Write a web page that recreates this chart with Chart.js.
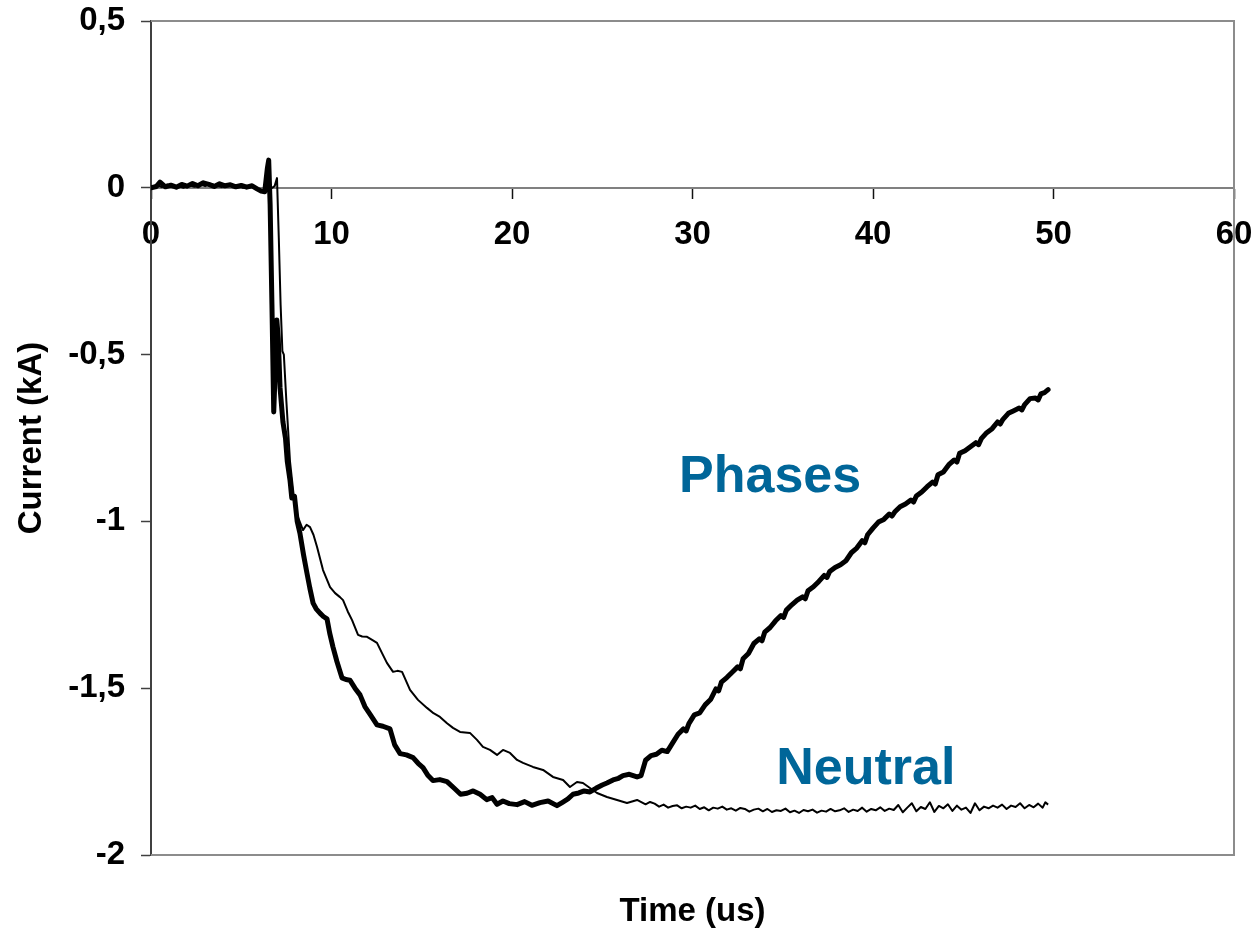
<!DOCTYPE html>
<html>
<head>
<meta charset="utf-8">
<title>Current vs time</title>
<script src="https://cdn.jsdelivr.net/npm/chart.js@4/dist/chart.umd.min.js"></script>
<style>
  html, body { margin: 0; padding: 0; background: #ffffff; }
  #wrap { width: 1255px; height: 931px; position: relative; }
</style>
</head>
<body>
<div id="wrap"><canvas id="chart"></canvas></div>
<script>
// Phase current (thick trace): time in us, current in kA
const phasesTime = [
  0.0, 0.3, 0.5, 0.8, 1.1, 1.4, 1.7, 2.0, 2.3, 2.6, 2.9, 3.2, 3.5, 3.8, 4.1, 4.4, 4.7, 5.0, 5.3, 5.6,
  5.9, 6.1, 6.3, 6.45, 6.52, 6.6, 6.7, 6.8, 6.88, 6.97, 7.05, 7.15, 7.31, 7.45, 7.55, 7.70, 7.80, 7.95,
  8.10, 8.25, 8.45, 8.64, 8.80, 8.98, 9.15, 9.36, 9.55, 9.75, 9.90, 10.08, 10.30, 10.58, 10.80, 11.02,
  11.30, 11.58, 11.85, 12.13, 12.52, 12.85, 13.24, 13.50, 13.80, 14.15, 14.52, 14.80, 15.07, 15.35,
  15.62, 16.00, 16.40, 16.80, 17.15, 17.51, 17.85, 18.23, 18.60, 18.90, 19.17, 19.50, 19.85, 20.28,
  20.70, 21.10, 21.55, 22.00, 22.49, 22.80, 23.10, 23.38, 23.70, 24.00, 24.32, 24.65, 25.00, 25.26,
  25.60, 25.90, 26.15, 26.50, 26.93, 27.15,
  27.40, 27.70, 28.00, 28.30, 28.60, 28.90, 29.20, 29.50, 29.65, 29.80, 30.10, 30.40, 30.70, 31.00,
  31.30, 31.45, 31.60, 31.90, 32.20, 32.50, 32.65, 32.80, 33.10, 33.40, 33.70, 33.85, 34.00, 34.30,
  34.60, 34.90, 35.05, 35.20, 35.50, 35.80, 36.10, 36.25, 36.40, 36.70, 37.00, 37.30, 37.45, 37.60,
  37.90, 38.20, 38.50, 38.80, 39.10, 39.40, 39.55, 39.70, 40.00, 40.30, 40.60, 40.90, 41.05, 41.20,
  41.50, 41.80, 42.10, 42.25, 42.40, 42.70, 43.00, 43.30, 43.45, 43.60, 43.90, 44.20, 44.50, 44.65,
  44.80, 45.10, 45.40, 45.70, 45.85, 46.00, 46.30, 46.60, 46.90, 47.05, 47.20, 47.50, 47.80, 48.10,
  48.25, 48.40, 48.70, 49.00, 49.15, 49.30, 49.50, 49.70
];
const phasesCurrent = [
  0.000, 0.004, 0.017, 0.003, 0.008, 0.002, 0.010, 0.005, 0.013, 0.006, 0.015, 0.010, 0.004, 0.012, 0.006, 0.009, 0.003, 0.007, 0.002, 0.006,
  -0.004, -0.010, -0.012, 0.060, 0.083, -0.050, -0.350, -0.672, -0.550, -0.396, -0.450, -0.600, -0.702, -0.750, -0.820, -0.876, -0.930, -0.925,
  -1.000, -1.035, -1.100, -1.155, -1.200, -1.245, -1.262, -1.275, -1.285, -1.292, -1.335, -1.376, -1.420, -1.469, -1.474, -1.476,
  -1.500, -1.520, -1.555, -1.578, -1.610, -1.614, -1.622, -1.670, -1.696, -1.700, -1.708, -1.725, -1.738, -1.762,
  -1.777, -1.774, -1.780, -1.800, -1.818, -1.815, -1.808, -1.818, -1.834, -1.828, -1.848, -1.838, -1.846, -1.849,
  -1.840, -1.851, -1.843, -1.838, -1.852, -1.842, -1.832, -1.818, -1.814, -1.808, -1.811, -1.800, -1.790, -1.784,
  -1.775, -1.770, -1.762, -1.758, -1.766, -1.762,
  -1.716, -1.702, -1.698, -1.686, -1.690, -1.664, -1.638, -1.622, -1.628, -1.606, -1.580, -1.574, -1.550, -1.534,
  -1.502, -1.508, -1.482, -1.468, -1.452, -1.436, -1.442, -1.412, -1.396, -1.366, -1.352, -1.358, -1.332, -1.318,
  -1.298, -1.282, -1.288, -1.266, -1.250, -1.236, -1.226, -1.232, -1.208, -1.196, -1.180, -1.162, -1.168, -1.150,
  -1.138, -1.130, -1.118, -1.094, -1.080, -1.058, -1.064, -1.040, -1.020, -1.002, -0.994, -0.978, -0.984, -0.972,
  -0.956, -0.948, -0.936, -0.942, -0.924, -0.912, -0.896, -0.882, -0.888, -0.860, -0.852, -0.830, -0.816, -0.822,
  -0.796, -0.788, -0.776, -0.764, -0.770, -0.752, -0.734, -0.722, -0.702, -0.708, -0.694, -0.676, -0.668, -0.660,
  -0.666, -0.650, -0.632, -0.630, -0.636, -0.618, -0.614, -0.605
];

// Neutral current (thin trace): time in us, current in kA
const neutralTime = [
  0.0, 0.3, 0.6, 0.9, 1.2, 1.5, 1.8, 2.1, 2.4, 2.7, 3.0, 3.3, 3.6, 3.9, 4.2, 4.5, 4.8, 5.1, 5.4, 5.7,
  6.0, 6.3, 6.6, 6.85, 6.98, 7.08, 7.18, 7.28, 7.36, 7.50, 7.70, 7.90, 8.09, 8.42, 8.62, 8.81, 9.00,
  9.20, 9.53, 9.92, 10.20, 10.47, 10.64, 10.90, 11.14, 11.47, 11.70, 11.97, 12.25, 12.52, 12.80, 13.07,
  13.41, 13.65, 13.91, 14.35, 14.79, 15.29, 15.65, 16.01, 16.40, 16.73, 17.12, 17.67, 18.06, 18.39,
  18.78, 19.17, 19.50, 19.89, 20.28, 20.61, 21.16, 21.72, 22.27, 22.83, 23.21, 23.60, 23.93, 24.32,
  24.71, 25.26, 25.82, 26.37, 26.93, 27.40, 27.65,
  27.90, 28.15, 28.40, 28.65, 28.90, 29.15, 29.40, 29.65, 29.90, 30.15, 30.40, 30.65, 30.90, 31.15,
  31.40, 31.65, 31.90, 32.15, 32.40, 32.65, 32.90, 33.15, 33.40, 33.65, 33.90, 34.15, 34.40, 34.65,
  34.90, 35.15, 35.40, 35.65, 35.90, 36.15, 36.40, 36.65, 36.90, 37.15, 37.40, 37.65, 37.90, 38.15,
  38.40, 38.65, 38.90, 39.15, 39.40, 39.65, 39.90, 40.15, 40.40, 40.65, 40.90, 41.15, 41.40, 41.65,
  41.90, 42.15, 42.40, 42.65, 42.90, 43.15, 43.40, 43.65, 43.90, 44.15, 44.40, 44.65, 44.90, 45.15,
  45.40, 45.65, 45.90, 46.15, 46.40, 46.65, 46.90, 47.15, 47.40, 47.65, 47.90, 48.15, 48.40, 48.65,
  48.90, 49.15, 49.40, 49.55, 49.70
];
const neutralCurrent = [
  0.002, 0.008, 0.002, 0.010, 0.004, 0.006, 0.000, 0.008, 0.003, 0.010, 0.005, 0.012, 0.006, 0.002, 0.009, 0.004, 0.008, 0.000, 0.005, 0.001,
  -0.006, -0.008, -0.004, 0.005, 0.029, -0.150, -0.350, -0.490, -0.500, -0.640, -0.820, -0.920, -0.980, -1.026, -1.010, -1.017, -1.040,
  -1.077, -1.146, -1.197, -1.215, -1.227, -1.236, -1.270, -1.296, -1.340, -1.345, -1.346, -1.355, -1.364, -1.395, -1.424,
  -1.451, -1.448, -1.451, -1.505, -1.535, -1.559, -1.575, -1.586, -1.605, -1.619, -1.631, -1.634, -1.655, -1.676,
  -1.685, -1.700, -1.685, -1.694, -1.715, -1.724, -1.736, -1.745, -1.766, -1.775, -1.796, -1.781, -1.784, -1.799,
  -1.814, -1.826, -1.835, -1.844, -1.835, -1.848, -1.841,
  -1.846, -1.855, -1.849, -1.858, -1.853, -1.851, -1.860, -1.855, -1.858, -1.852, -1.862, -1.857, -1.866, -1.858,
  -1.861, -1.855, -1.864, -1.860, -1.867, -1.859, -1.862, -1.870, -1.864, -1.861, -1.869, -1.862, -1.871, -1.866,
  -1.868, -1.861, -1.872, -1.867, -1.874, -1.865, -1.869, -1.864, -1.873, -1.867, -1.870, -1.862, -1.869, -1.866,
  -1.860, -1.871, -1.864, -1.868, -1.858, -1.870, -1.862, -1.866, -1.857, -1.868, -1.861, -1.865, -1.850, -1.872,
  -1.858, -1.845, -1.869, -1.856, -1.862, -1.842, -1.871, -1.853, -1.860, -1.848, -1.868, -1.852, -1.864, -1.858,
  -1.874, -1.845, -1.866, -1.855, -1.860, -1.852, -1.858, -1.849, -1.862, -1.852, -1.856, -1.845, -1.860, -1.850,
  -1.857, -1.846, -1.858, -1.842, -1.849
];

// Axis tick values
const xTicks = [0, 10, 20, 30, 40, 50, 60];
const yTicks = [0.5, 0, -0.5, -1, -1.5, -2];

const seriesNames = ['Phases', 'Neutral'];
const xAxisTitle = 'Time (us)';
const yAxisTitle = 'Current (kA)';

const FONT = "'Liberation Sans', Arial, Helvetica, sans-serif";
const LABEL_BLUE = '#006699';

function toPoints(ts, vs) {
  return ts.map((t, i) => ({ x: t, y: vs[i] }));
}

// Gray frame around the plotting area (top, right and bottom edges)
const framePlugin = {
  id: 'frame',
  beforeDatasetsDraw(chart) {
    const { ctx, chartArea: a } = chart;
    ctx.save();
    ctx.strokeStyle = '#8c8c8c';
    ctx.lineWidth = 2;
    ctx.beginPath();
    ctx.moveTo(a.left, a.top);
    ctx.lineTo(a.right, a.top);
    ctx.lineTo(a.right, a.bottom);
    ctx.lineTo(a.left, a.bottom);
    ctx.stroke();
    ctx.restore();
  }
};

// Horizontal axis title, centred under the plotting area
const xTitlePlugin = {
  id: 'xTitle',
  afterDraw(chart) {
    const { ctx, chartArea: a } = chart;
    ctx.save();
    ctx.fillStyle = '#000000';
    ctx.font = 'bold 33px ' + FONT;
    ctx.textAlign = 'center';
    ctx.textBaseline = 'middle';
    ctx.fillText(xAxisTitle, (a.left + a.right) / 2, a.bottom + 57);
    ctx.restore();
  }
};

// In-plot series names, anchored in data coordinates
const seriesLabelAnchors = [
  { t: 34.3, i: -0.87 },
  { t: 39.6, i: -1.745 }
];
const seriesLabelPlugin = {
  id: 'seriesLabels',
  afterDatasetsDraw(chart) {
    const { ctx, scales } = chart;
    ctx.save();
    ctx.fillStyle = LABEL_BLUE;
    ctx.font = 'bold 52px ' + FONT;
    ctx.textAlign = 'center';
    ctx.textBaseline = 'middle';
    seriesNames.forEach((name, k) => {
      const p = seriesLabelAnchors[k];
      ctx.fillText(name, scales.x.getPixelForValue(p.t), scales.y.getPixelForValue(p.i));
    });
    ctx.restore();
  }
};

new Chart(document.getElementById('chart'), {
  type: 'line',
  data: {
    datasets: [
      {
        label: seriesNames[0],
        data: toPoints(phasesTime, phasesCurrent),
        borderColor: '#000000',
        borderWidth: 5,
        borderJoinStyle: 'round',
        borderCapStyle: 'round',
        pointRadius: 0,
        tension: 0,
        fill: false
      },
      {
        label: seriesNames[1],
        data: toPoints(neutralTime, neutralCurrent),
        borderColor: '#000000',
        borderWidth: 2,
        borderJoinStyle: 'round',
        pointRadius: 0,
        tension: 0,
        fill: false
      }
    ]
  },
  options: {
    responsive: true,
    maintainAspectRatio: false,
    animation: false,
    events: [],
    layout: { padding: { top: 21, right: 21, left: 0, bottom: 76 } },
    plugins: {
      legend: { display: false },
      tooltip: { enabled: false },
      title: { display: false }
    },
    scales: {
      x: {
        type: 'linear',
        min: 0,
        max: 60,
        position: { y: 0 },
        afterBuildTicks(scale) { scale.ticks = xTicks.map(v => ({ value: v })); },
        afterFit(scale) { scale.paddingLeft = 0; scale.paddingRight = 0; },
        ticks: {
          color: '#000000',
          font: { family: FONT, size: 33, weight: 'bold' },
          padding: 17,
          maxRotation: 0,
          autoSkip: false
        },
        grid: {
          drawOnChartArea: false,
          drawTicks: true,
          tickLength: 10,
          tickColor: '#111111',
          tickWidth: 1.5
        },
        border: { display: true, color: '#808080', width: 2 }
      },
      y: {
        type: 'linear',
        min: -2,
        max: 0.5,
        position: 'left',
        afterBuildTicks(scale) { scale.ticks = yTicks.map(v => ({ value: v })); },
        afterFit(scale) {
          scale.width = 151;
          scale.paddingTop = 0;
          scale.paddingBottom = 0;
        },
        ticks: {
          color: '#000000',
          font: { family: FONT, size: 33, weight: 'bold' },
          padding: 16,
          autoSkip: false,
          callback: v => String(v).replace('.', ',')
        },
        grid: {
          drawOnChartArea: false,
          drawTicks: true,
          tickLength: 10,
          tickColor: '#404040',
          tickWidth: 1.5
        },
        border: { display: true, color: '#404040', width: 2 },
        title: {
          display: true,
          text: yAxisTitle,
          color: '#000000',
          font: { family: FONT, size: 33, weight: 'bold' },
          padding: { top: 12, bottom: 0 }
        }
      }
    }
  },
  plugins: [framePlugin, xTitlePlugin, seriesLabelPlugin]
});
</script>
</body>
</html>
